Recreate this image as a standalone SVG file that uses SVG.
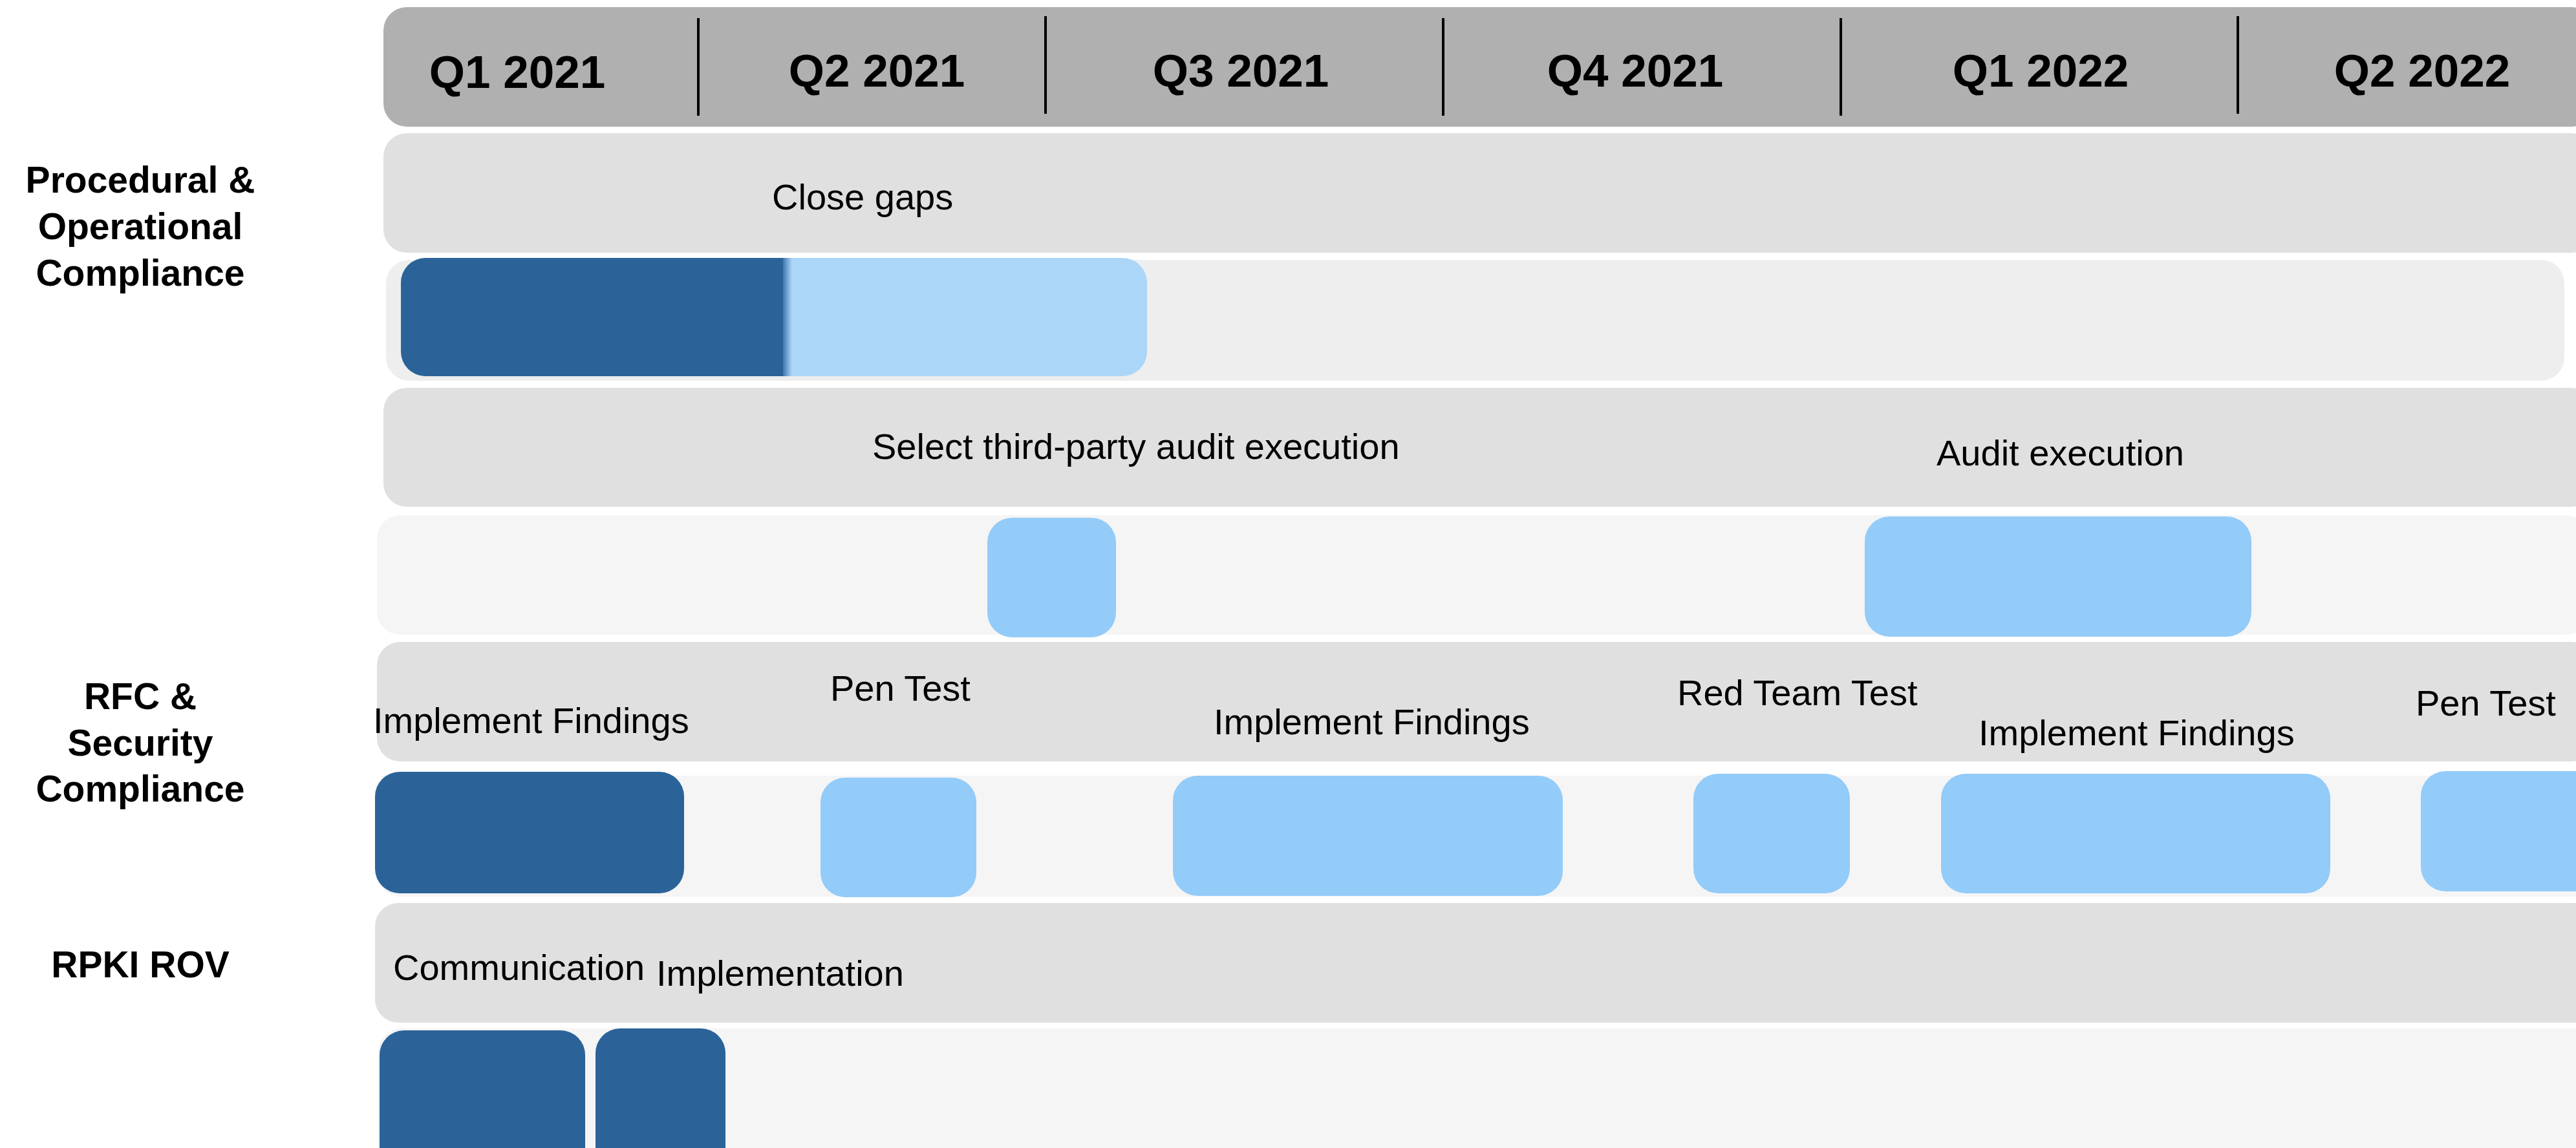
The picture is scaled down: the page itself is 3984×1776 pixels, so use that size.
<svg xmlns="http://www.w3.org/2000/svg" width="3984" height="1776" viewBox="0 0 3984 1776">
<style>
.hdr{fill:#b0b0b0}
.bar{fill:#e0e0e0}
.trk{fill:#f5f5f5}
.trk2{fill:#eeeeee}
.dark{fill:#2b6399}
.lb{fill:#93cbf9}
.lb2{fill:#acd6f7}
.div{stroke:#000;stroke-width:4}
.q{font-family:"Liberation Sans",Arial,sans-serif;font-weight:bold;font-size:71px;fill:#000;text-anchor:middle}
.cat{font-family:"Liberation Sans",Arial,sans-serif;font-weight:bold;font-size:57px;fill:#000;text-anchor:middle}
.t{font-family:"Liberation Sans",Arial,sans-serif;font-size:56px;fill:#000}
</style>
<defs>
<linearGradient id="edge" x1="0" x2="1" y1="0" y2="0">
<stop offset="0" stop-color="#3f78b0"/>
<stop offset="1" stop-color="#acd6f7"/>
</linearGradient>
</defs>
<rect width="3984" height="1776" fill="#ffffff"/>

<g id="header">
<rect class="hdr" x="593" y="11" width="3420" height="185" rx="36" ry="36"/>
<line class="div" x1="1080" y1="28" x2="1080" y2="179"/>
<line class="div" x1="1617" y1="25" x2="1617" y2="176"/>
<line class="div" x1="2232" y1="28" x2="2232" y2="179"/>
<line class="div" x1="2847" y1="28" x2="2847" y2="179"/>
<line class="div" x1="3461" y1="25" x2="3461" y2="176"/>
<text class="q" x="800" y="136">Q1 2021</text>
<text class="q" x="1356" y="134">Q2 2021</text>
<text class="q" x="1919" y="134">Q3 2021</text>
<text class="q" x="2529" y="134">Q4 2021</text>
<text class="q" x="3156" y="134">Q1 2022</text>
<text class="q" x="3746" y="134">Q2 2022</text>
</g>

<g id="category-procedural">
<text class="cat" x="217" y="298">Procedural &amp;</text>
<text class="cat" x="217" y="370">Operational</text>
<text class="cat" x="217" y="442">Compliance</text>
</g>
<g id="category-rfc">
<text class="cat" x="217" y="1097">RFC &amp;</text>
<text class="cat" x="217" y="1169">Security</text>
<text class="cat" x="217" y="1240">Compliance</text>
</g>
<g id="category-rpki">
<text class="cat" x="217" y="1512">RPKI ROV</text>
</g>

<g id="row-close-gaps">
<rect class="bar" x="593" y="206" width="3420" height="185" rx="36" ry="36"/>
<text class="t" x="1194" y="324">Close gaps</text>
</g>
<g id="track-close-gaps">
<rect class="trk2" x="597" y="402" width="3369" height="187" rx="36" ry="36"/>
<rect class="lb2" x="620" y="399" width="1154" height="183" rx="38" ry="38"/>
<path class="dark" d="M658,399 H1211 V582 H658 A38,38 0 0 1 620,544 V437 A38,38 0 0 1 658,399 Z"/>
<rect x="1211" y="399" width="14" height="183" fill="url(#edge)"/>
</g>

<g id="row-audit">
<rect class="bar" x="593" y="600" width="3420" height="184" rx="36" ry="36"/>
<text class="t" x="1349" y="710">Select third-party audit execution</text>
<text class="t" x="2995" y="720">Audit execution</text>
</g>
<g id="track-audit">
<rect class="trk" x="583" y="797" width="3420" height="185" rx="36" ry="36"/>
<rect id="task-select-audit" class="lb" x="1527" y="801" width="199" height="185" rx="38" ry="38"/>
<rect id="task-audit-execution" class="lb" x="2884" y="799" width="598" height="186" rx="38" ry="38"/>
</g>

<g id="row-rfc">
<rect class="bar" x="583" y="993" width="3430" height="185" rx="36" ry="36"/>
<text class="t" x="577" y="1134">Implement Findings</text>
<text class="t" x="1284" y="1084">Pen Test</text>
<text class="t" x="1877" y="1136">Implement Findings</text>
<text class="t" x="2594" y="1091">Red Team Test</text>
<text class="t" x="3060" y="1153">Implement Findings</text>
<text class="t" x="3736" y="1107">Pen Test</text>
</g>
<g id="track-rfc">
<rect class="trk" x="583" y="1200" width="3430" height="187" rx="36" ry="36"/>
<rect id="task-implement-1" class="dark" x="580" y="1194" width="478" height="188" rx="38" ry="38"/>
<rect id="task-pentest-1" class="lb" x="1269" y="1203" width="241" height="185" rx="38" ry="38"/>
<rect id="task-implement-2" class="lb" x="1814" y="1200" width="603" height="186" rx="38" ry="38"/>
<rect id="task-redteam" class="lb" x="2619" y="1197" width="242" height="185" rx="38" ry="38"/>
<rect id="task-implement-3" class="lb" x="3002" y="1197" width="602" height="185" rx="38" ry="38"/>
<rect id="task-pentest-2" class="lb" x="3744" y="1193" width="280" height="186" rx="38" ry="38"/>
</g>

<g id="row-rpki">
<rect class="bar" x="580" y="1397" width="3440" height="185" rx="36" ry="36"/>
<text class="t" x="608" y="1516">Communication</text>
<text class="t" x="1015" y="1525">Implementation</text>
</g>
<g id="track-rpki">
<rect class="trk" x="585" y="1591" width="3430" height="230" rx="36" ry="36"/>
<rect id="task-communication" class="dark" x="587" y="1594" width="318" height="230" rx="38" ry="38"/>
<rect id="task-implementation" class="dark" x="921" y="1591" width="201" height="230" rx="38" ry="38"/>
</g>

<g id="connectors"/>
</svg>
